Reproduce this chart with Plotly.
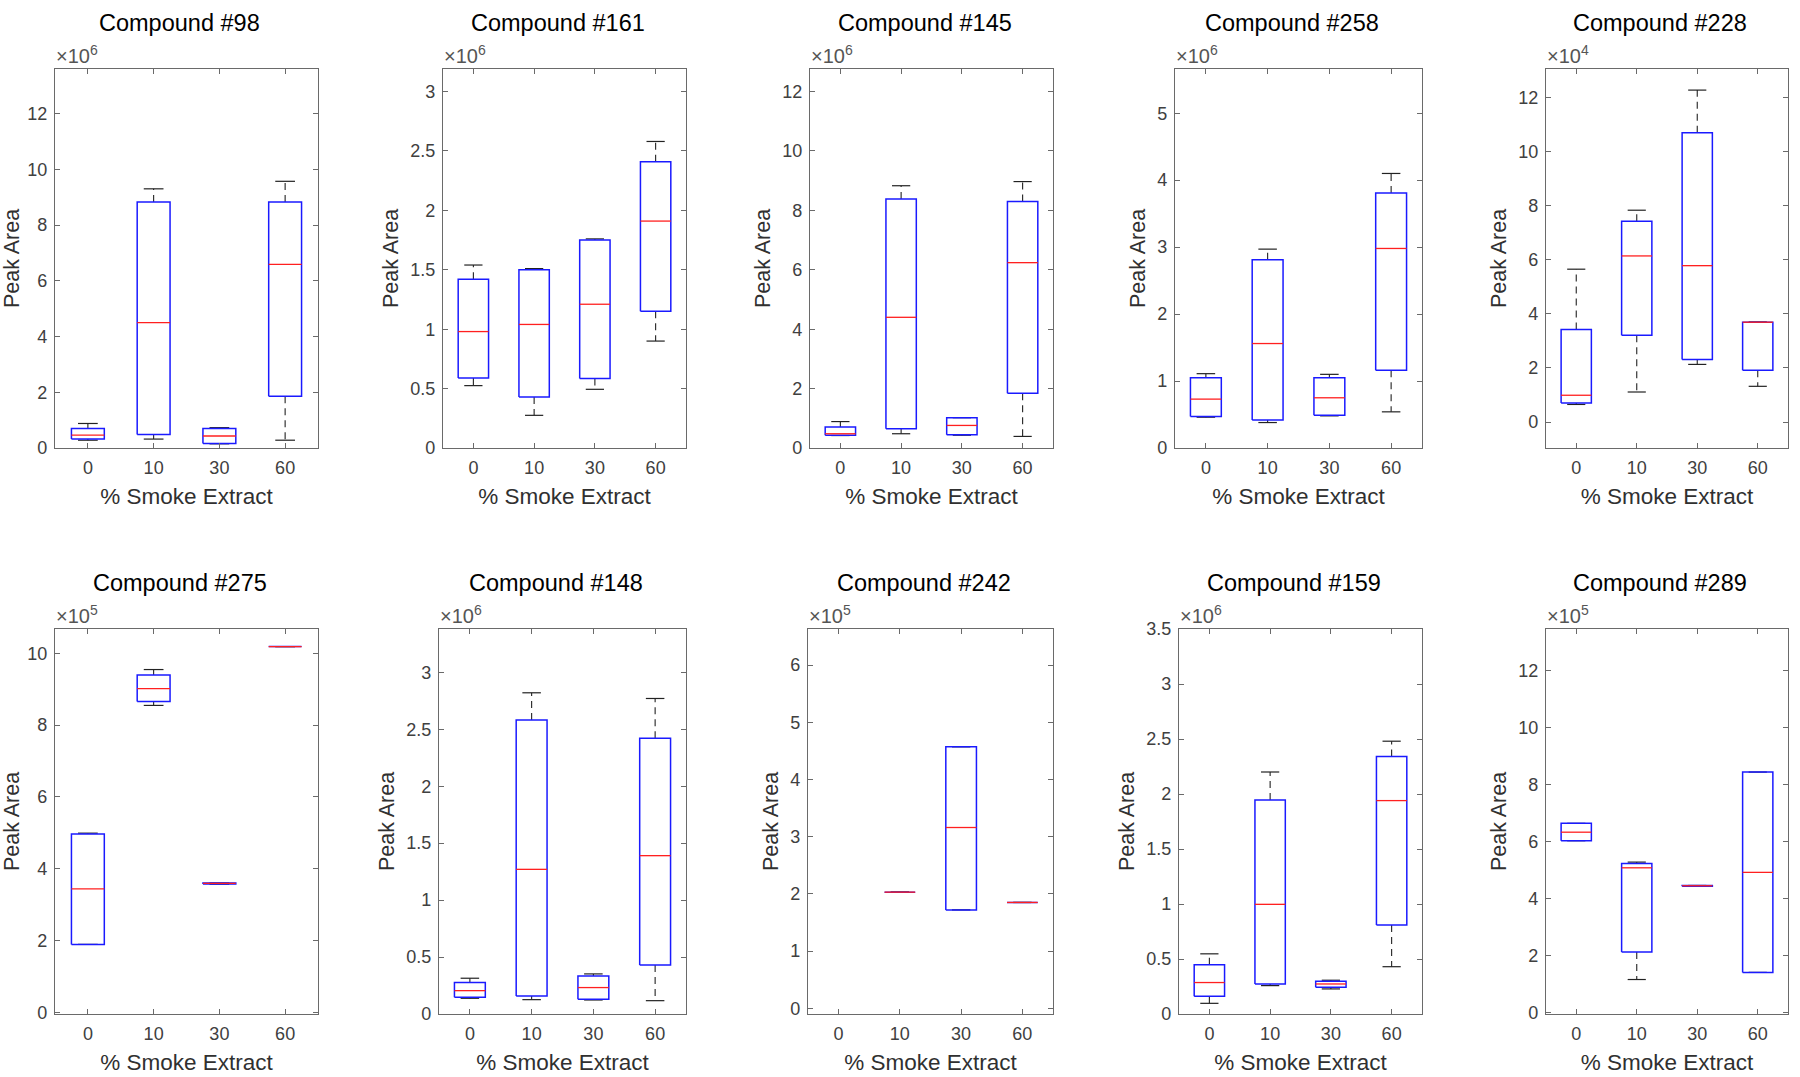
import plotly.graph_objects as go

categories = ["0", "10", "30", "60"]
compound_names = ["#98", "#161", "#145", "#258", "#228", "#275", "#148", "#242", "#159", "#289"]
exponents = [6, 6, 6, 6, 4, 5, 6, 5, 6, 5]

# values in units of 10^exponent; order of categories: 0, 10, 30, 60
c98_lo = [0.28, 0.32, 0.15, 0.28]
c98_q1 = [0.32, 0.48, 0.16, 1.86]
c98_med = [0.46, 4.50, 0.43, 6.59]
c98_q3 = [0.70, 8.83, 0.70, 8.83]
c98_hi = [0.88, 9.30, 0.73, 9.57]

c161_lo = [0.525, 0.275, 0.494, 0.90]
c161_q1 = [0.59, 0.43, 0.584, 1.15]
c161_med = [0.98, 1.04, 1.21, 1.91]
c161_q3 = [1.42, 1.50, 1.75, 2.41]
c161_hi = [1.54, 1.51, 1.76, 2.58]

c145_lo = [0.42, 0.48, 0.43, 0.39]
c145_q1 = [0.43, 0.65, 0.45, 1.84]
c145_med = [0.48, 4.40, 0.76, 6.24]
c145_q3 = [0.71, 8.38, 1.02, 8.30]
c145_hi = [0.89, 8.83, 1.02, 8.97]

c258_lo = [0.46, 0.38, 0.48, 0.54]
c258_q1 = [0.47, 0.42, 0.49, 1.16]
c258_med = [0.73, 1.56, 0.75, 2.98]
c258_q3 = [1.05, 2.81, 1.05, 3.81]
c258_hi = [1.11, 2.97, 1.10, 4.10]

c228_lo = [0.65, 1.11, 2.13, 1.32]
c228_q1 = [0.70, 3.21, 2.31, 1.91]
c228_med = [0.99, 6.14, 5.78, 3.69]
c228_q3 = [3.42, 7.42, 10.69, 3.69]
c228_hi = [5.65, 7.83, 12.27, 3.70]

c275_lo = [1.89, 8.55, 3.57, 10.19]
c275_q1 = [1.89, 8.66, 3.57, 10.19]
c275_med = [3.44, 9.02, 3.59, 10.19]
c275_q3 = [4.97, 9.40, 3.60, 10.19]
c275_hi = [4.99, 9.55, 3.60, 10.19]

c148_lo = [0.138, 0.126, 0.123, 0.117]
c148_q1 = [0.147, 0.158, 0.129, 0.43]
c148_med = [0.205, 1.27, 0.232, 1.39]
c148_q3 = [0.276, 2.58, 0.334, 2.42]
c148_hi = [0.314, 2.82, 0.352, 2.77]

c242_lo = [None, 2.03, 1.72, 1.85]
c242_q1 = [None, 2.03, 1.72, 1.85]
c242_med = [None, 2.03, 3.16, 1.85]
c242_q3 = [None, 2.03, 4.57, 1.85]
c242_hi = [None, 2.03, 4.57, 1.85]

c159_lo = [0.097, 0.258, 0.228, 0.43]
c159_q1 = [0.161, 0.273, 0.243, 0.81]
c159_med = [0.286, 0.997, 0.273, 1.94]
c159_q3 = [0.447, 1.945, 0.298, 2.34]
c159_hi = [0.547, 2.20, 0.307, 2.48]

c289_lo = [6.03, 1.16, 4.43, 1.41]
c289_q1 = [6.03, 2.13, 4.43, 1.41]
c289_med = [6.33, 5.08, 4.45, 4.92]
c289_q3 = [6.64, 5.23, 4.46, 8.44]
c289_hi = [6.64, 5.28, 4.46, 8.44]

ytick_vals = [
    [0, 2, 4, 6, 8, 10, 12],
    [0, 0.5, 1, 1.5, 2, 2.5, 3],
    [0, 2, 4, 6, 8, 10, 12],
    [0, 1, 2, 3, 4, 5],
    [0, 2, 4, 6, 8, 10, 12],
    [0, 2, 4, 6, 8, 10],
    [0, 0.5, 1, 1.5, 2, 2.5, 3],
    [0, 1, 2, 3, 4, 5, 6],
    [0, 0.5, 1, 1.5, 2, 2.5, 3, 3.5],
    [0, 2, 4, 6, 8, 10, 12],
]
y_ranges = [
    [0, 13.6], [0, 3.19], [0, 12.76], [0, 5.66], [-0.96, 13.05],
    [-0.05, 10.68], [0, 3.38], [-0.1, 6.63], [0, 3.5], [-0.05, 13.46],
]

stats = [
    (c98_lo, c98_q1, c98_med, c98_q3, c98_hi),
    (c161_lo, c161_q1, c161_med, c161_q3, c161_hi),
    (c145_lo, c145_q1, c145_med, c145_q3, c145_hi),
    (c258_lo, c258_q1, c258_med, c258_q3, c258_hi),
    (c228_lo, c228_q1, c228_med, c228_q3, c228_hi),
    (c275_lo, c275_q1, c275_med, c275_q3, c275_hi),
    (c148_lo, c148_q1, c148_med, c148_q3, c148_hi),
    (c242_lo, c242_q1, c242_med, c242_q3, c242_hi),
    (c159_lo, c159_q1, c159_med, c159_q3, c159_hi),
    (c289_lo, c289_q1, c289_med, c289_q3, c289_hi),
]

# layout geometry in pixels
W, H = 1800, 1077
x_px = [(55, 318), (443, 686), (810, 1053), (1175, 1422), (1546, 1788),
        (55, 318), (439, 686), (808, 1053), (1179, 1422), (1546, 1788)]
y_px = [(69, 448)] * 5 + [(629, 1014)] * 5

FONT = "Liberation Sans, Arial, sans-serif"
BOX_HALF = 0.25
CAP_HALF = 0.15

fig = go.Figure()
annotations = []
layout_axes = {}

for k in range(10):
    sfx = "" if k == 0 else str(k + 1)
    xa, ya = "x" + sfx, "y" + sfx
    lo, q1, med, q3, hi = stats[k]

    wx, wy, cx, cy, bx, by, mx, my = [], [], [], [], [], [], [], []
    for i in range(len(categories)):
        if med[i] is None:
            continue
        p = i + 1
        wx += [p, p, None, p, p, None]
        wy += [q3[i], hi[i], None, q1[i], lo[i], None]
        cx += [p - CAP_HALF, p + CAP_HALF, None, p - CAP_HALF, p + CAP_HALF, None]
        cy += [hi[i], hi[i], None, lo[i], lo[i], None]
        bx += [p - BOX_HALF, p + BOX_HALF, p + BOX_HALF, p - BOX_HALF, p - BOX_HALF, None]
        by += [q1[i], q1[i], q3[i], q3[i], q1[i], None]
        mx += [p - BOX_HALF, p + BOX_HALF, None]
        my += [med[i], med[i], None]

    common = dict(mode="lines", xaxis=xa, yaxis=ya, showlegend=False, hoverinfo="skip")
    fig.add_trace(go.Scatter(x=wx, y=wy, line=dict(color="#222222", width=1.1, dash="7px,5px"), **common))
    fig.add_trace(go.Scatter(x=cx, y=cy, line=dict(color="#222222", width=1.2), **common))
    fig.add_trace(go.Scatter(x=bx, y=by, line=dict(color="#1a1aff", width=1.5), **common))
    fig.add_trace(go.Scatter(x=mx, y=my, line=dict(color="#ff2020", width=1.3), **common))

    x0, x1 = x_px[k]
    y0, y1 = y_px[k]
    axis_common = dict(
        showline=True, linecolor="#6a6a6a", linewidth=1.2, mirror="ticks",
        ticks="inside", ticklen=5, tickwidth=1, tickcolor="#6a6a6a",
        showgrid=False, zeroline=False, automargin=False,
        tickfont=dict(family=FONT, size=18, color="#404040"),
    )
    layout_axes["xaxis" + sfx] = dict(
        domain=[x0 / W, x1 / W], anchor=ya, range=[0.5, 4.5],
        tickmode="array", tickvals=[1, 2, 3, 4], ticktext=categories,
        ticklabelstandoff=3,
        title=dict(text="% Smoke Extract", font=dict(family=FONT, size=22.5, color="#303030"), standoff=11),
        **axis_common,
    )
    layout_axes["yaxis" + sfx] = dict(
        domain=[1 - y1 / H, 1 - y0 / H], anchor=xa, range=y_ranges[k],
        tickmode="array", tickvals=ytick_vals[k],
        ticktext=[("%g" % v) for v in ytick_vals[k]],
        ticklabelstandoff=3,
        title=dict(text="Peak Area", font=dict(family=FONT, size=21.5, color="#303030"), standoff=5),
        **axis_common,
    )
    annotations.append(dict(
        text="Compound " + compound_names[k], xref=xa + " domain", yref=ya + " domain",
        x=0.5, y=1, xanchor="center", yanchor="middle", xshift=-7, yshift=46, showarrow=False,
        font=dict(family=FONT, size=23.5, color="black"),
    ))
    annotations.append(dict(
        text="\u00d710<sup>%d</sup>" % exponents[k], xref=xa + " domain", yref=ya + " domain",
        x=0, y=1, xanchor="left", yanchor="bottom", xshift=-1, yshift=0, showarrow=False,
        font=dict(family=FONT, size=20, color="#555555"),
    ))

fig.update_layout(
    template="none",
    width=W, height=H, margin=dict(l=0, r=0, t=0, b=0, autoexpand=False),
    paper_bgcolor="white", plot_bgcolor="white",
    annotations=annotations, **layout_axes,
)

fig.write_html("out.html", config={"displayModeBar": False},
               post_script="document.body.style.margin='0';")
